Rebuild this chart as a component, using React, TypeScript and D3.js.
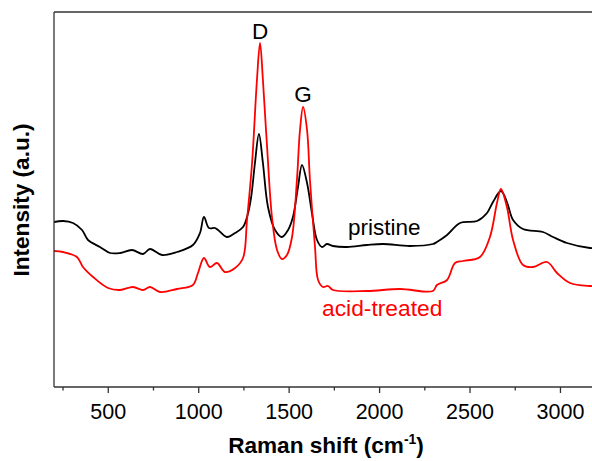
import React from "react";
import * as d3 from "d3";

const W = 592;
const H = 461;

// Raman shift (cm^-1) and intensity (a.u.)
const pristineShift = [200, 250, 305, 355, 388, 454, 510, 565, 631, 692, 731, 797, 880, 968, 1007, 1029, 1057, 1090, 1107, 1156, 1201, 1245, 1270, 1290, 1311, 1333, 1355, 1383, 1422, 1460, 1494, 1521, 1549, 1571, 1599, 1626, 1654, 1682, 1709, 1742, 1820, 1930, 2019, 2168, 2295, 2317, 2373, 2445, 2539, 2594, 2627, 2671, 2704, 2738, 2793, 2903, 2959, 3036, 3163, 3200];
const pristineIntensity = [165, 166, 164, 157, 147, 140, 134, 134, 137, 133, 138, 132, 135, 142, 154, 170, 159, 159, 157, 150, 154, 160, 172, 190, 224, 253, 224, 180, 157, 150, 157, 170, 200, 222, 204, 174, 147, 140, 143, 141, 140, 142, 143, 141, 143, 145, 152, 164, 166, 174, 185, 196, 185, 167, 158, 155, 150, 144, 139, 139];

const acidShift = [200, 250, 327, 360, 416, 499, 565, 637, 692, 731, 786, 880, 968, 996, 1029, 1062, 1101, 1145, 1201, 1245, 1267, 1295, 1322, 1339, 1355, 1378, 1405, 1433, 1460, 1488, 1516, 1543, 1560, 1577, 1599, 1615, 1643, 1660, 1687, 1715, 1742, 1930, 2113, 2295, 2317, 2373, 2417, 2461, 2555, 2610, 2649, 2671, 2704, 2738, 2793, 2848, 2926, 2981, 3053, 3163, 3200];
const acidIntensity = [136, 135, 130, 120, 110, 99, 97, 100, 97, 100, 95, 98, 102, 114, 129, 120, 124, 115, 119, 129, 167, 224, 307, 344, 307, 240, 170, 137, 128, 132, 150, 207, 257, 280, 257, 207, 140, 107, 100, 101, 97, 96, 98, 96, 102, 107, 124, 126, 130, 150, 184, 198, 180, 147, 122, 120, 125, 114, 104, 101, 101];

const majorTicks = [500, 1000, 1500, 2000, 2500, 3000];
const minorTicks = [250, 750, 1250, 1750, 2250, 2750];

const seriesLabels = ["pristine", "acid-treated"];
const peakLabels = ["D", "G"];
const peakPositions = [1339, 1577];
const peakLabelLevels = [348, 285];

const X_DOMAIN = [200, 3200];
const Y_DOMAIN = [0, 375];

export default function App() {
  const left = 54;
  const top = 12;
  const bottom = 387;
  const right = left + 3000 * 0.18088;

  const x = d3.scaleLinear().domain(X_DOMAIN).range([left, right]);
  const y = d3.scaleLinear().domain(Y_DOMAIN).range([bottom, top]);

  const line = d3
    .line<[number, number]>()
    .x((d) => x(d[0]))
    .y((d) => y(d[1]))
    .curve(d3.curveCatmullRom.alpha(0.5));

  const pristine = pristineShift.map((s, i) => [s, pristineIntensity[i]] as [number, number]);
  const acid = acidShift.map((s, i) => [s, acidIntensity[i]] as [number, number]);

  const font = "'Liberation Sans', Arial, sans-serif";
  const axisColor = "#333";

  return (
    <svg
      width={W}
      height={H}
      style={{ position: "absolute", left: 0, top: 0, background: "#fff" }}
      fontFamily={font}
    >
      <defs>
        <clipPath id="plot">
          <rect x={left} y={top} width={right - left} height={bottom - top} />
        </clipPath>
      </defs>
      <g clipPath="url(#plot)">
        <path d={line(pristine) || ""} fill="none" stroke="#000" strokeWidth={1.8} strokeLinejoin="round" />
        <path d={line(acid) || ""} fill="none" stroke="#ff0000" strokeWidth={1.8} strokeLinejoin="round" />
      </g>
      {/* frame */}
      <line x1={left} x2={right} y1={top} y2={top} stroke={axisColor} strokeWidth={1.3} />
      <line x1={left} x2={left} y1={top} y2={bottom} stroke={axisColor} strokeWidth={1.3} />
      <line x1={left} x2={right} y1={bottom} y2={bottom} stroke={axisColor} strokeWidth={1.3} />
      {majorTicks.map((t) => (
        <g key={"M" + t}>
          <line x1={x(t)} x2={x(t)} y1={bottom} y2={bottom + 6} stroke={axisColor} strokeWidth={1.3} />
          <text x={x(t)} y={419} textAnchor="middle" fontSize={21.5} fill="#000">
            {t}
          </text>
        </g>
      ))}
      {minorTicks.map((t) => (
        <line key={"m" + t} x1={x(t)} x2={x(t)} y1={bottom} y2={bottom + 3.5} stroke={axisColor} strokeWidth={1.3} />
      ))}
      {/* peak labels */}
      {peakLabels.map((p, i) => (
        <text key={p} x={x(peakPositions[i])} y={y(peakLabelLevels[i])} textAnchor="middle" fontSize={22.5} fill="#000">
          {p}
        </text>
      ))}
      <text x={348} y={235} fontSize={22.5} fill="#000">
        {seriesLabels[0]}
      </text>
      <text x={322} y={316} fontSize={22.8} fill="#ff0000">
        {seriesLabels[1]}
      </text>
      {/* axis titles */}
      <text x={326} y={453} textAnchor="middle" fontSize={22.6} fontWeight="bold" fill="#000">
        Raman shift (cm
        <tspan fontSize={14} dy={-9}>-1</tspan>
        <tspan dy={9}>)</tspan>
      </text>
      <text
        transform="translate(29,200) rotate(-90)"
        textAnchor="middle"
        fontSize={22.6}
        fontWeight="bold"
        fill="#000"
      >
        Intensity (a.u.)
      </text>
    </svg>
  );
}
